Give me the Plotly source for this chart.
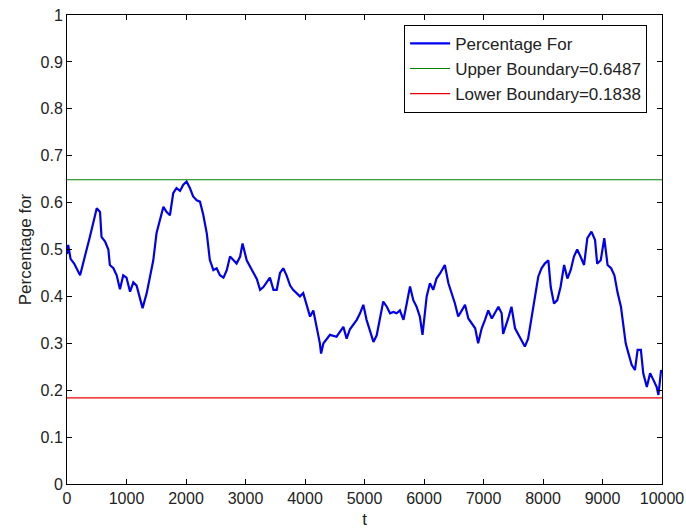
import plotly.graph_objects as go

t = [0, 20, 60, 120, 220, 275, 330, 385, 440, 500, 555, 580, 640, 695, 720, 780, 835, 890, 945, 1000,
     1060, 1115, 1170, 1225, 1270, 1340, 1395, 1450, 1505, 1560, 1620, 1675, 1730, 1785, 1840, 1900,
     1955, 2010, 2065, 2120, 2180, 2235, 2290, 2350, 2400, 2460, 2515, 2570, 2630, 2685, 2740, 2800,
     2850, 2910, 2950, 3020, 3075, 3130, 3190, 3245, 3300, 3355, 3410, 3470, 3525, 3580, 3635, 3690,
     3750, 3800, 3860, 3915, 3970, 4030, 4085, 4140, 4195, 4250, 4270, 4310, 4420, 4530, 4645, 4700,
     4755, 4870, 4925, 4980, 5035, 5090, 5150, 5205, 5260, 5315, 5375, 5430, 5485, 5540, 5595, 5655,
     5710, 5765, 5820, 5875, 5930, 5975, 6045, 6100, 6155, 6210, 6270, 6350, 6410, 6465, 6520, 6575,
     6635, 6690, 6745, 6800, 6860, 6910, 6970, 7025, 7080, 7140, 7195, 7250, 7305, 7330, 7415, 7470,
     7530, 7585, 7640, 7695, 7750, 7810, 7865, 7920, 7975, 8030, 8090, 8130, 8185, 8240, 8295, 8355,
     8410, 8465, 8520, 8575, 8630, 8690, 8745, 8815, 8875, 8910, 8970, 9030, 9085, 9145, 9200, 9255,
     9310, 9350, 9390, 9435, 9490, 9545, 9590, 9645, 9685, 9745, 9800, 9855, 9910, 9940, 9985, 10000]
percentage_for = [0.49, 0.51, 0.48, 0.47, 0.445, 0.475, 0.50, 0.527, 0.559, 0.588, 0.58, 0.527, 0.517,
     0.50, 0.467, 0.46, 0.445, 0.415, 0.445, 0.44, 0.41, 0.43, 0.423, 0.397, 0.375, 0.407, 0.442, 0.477,
     0.535, 0.563, 0.591, 0.58, 0.573, 0.62, 0.631, 0.625, 0.638, 0.645, 0.631, 0.613, 0.605, 0.602,
     0.574, 0.534, 0.478, 0.456, 0.46, 0.445, 0.44, 0.456, 0.485, 0.477, 0.47, 0.485, 0.513, 0.477,
     0.463, 0.45, 0.437, 0.414, 0.42, 0.43, 0.44, 0.414, 0.414, 0.45, 0.46, 0.445, 0.423, 0.414, 0.407,
     0.40, 0.407, 0.38, 0.357, 0.37, 0.335, 0.30, 0.278, 0.30, 0.318, 0.314, 0.335, 0.31, 0.33, 0.35,
     0.364, 0.382, 0.35, 0.328, 0.303, 0.317, 0.35, 0.389, 0.378, 0.364, 0.367, 0.364, 0.37, 0.35,
     0.385, 0.421, 0.392, 0.378, 0.357, 0.318, 0.40, 0.428, 0.414, 0.438, 0.449, 0.467, 0.428, 0.407,
     0.385, 0.357, 0.37, 0.382, 0.353, 0.343, 0.332, 0.30, 0.332, 0.35, 0.37, 0.353, 0.364, 0.378,
     0.364, 0.32, 0.353, 0.378, 0.332, 0.318, 0.307, 0.293, 0.31, 0.357, 0.40, 0.442, 0.46, 0.47,
     0.477, 0.42, 0.385, 0.392, 0.42, 0.467, 0.438, 0.456, 0.485, 0.50, 0.485, 0.467, 0.524, 0.538,
     0.52, 0.47, 0.477, 0.524, 0.467, 0.46, 0.445, 0.407, 0.378, 0.343, 0.30, 0.279, 0.254, 0.243,
     0.286, 0.286, 0.236, 0.207, 0.236, 0.222, 0.207, 0.19, 0.243, 0.235]

t_range = [0, 10000]
upper_boundary = 0.6487
lower_boundary = 0.1838

x_ticks = [0, 1000, 2000, 3000, 4000, 5000, 6000, 7000, 8000, 9000, 10000]
x_tick_labels = ["0", "1000", "2000", "3000", "4000", "5000", "6000", "7000", "8000", "9000", "10000"]
y_ticks = [0, 0.1, 0.2, 0.3, 0.4, 0.5, 0.6, 0.7, 0.8, 0.9, 1]
y_tick_labels = ["0", "0.1", "0.2", "0.3", "0.4", "0.5", "0.6", "0.7", "0.8", "0.9", "1"]

FONT = "Liberation Sans, Arial, sans-serif"
TXT = "#222222"

fig = go.Figure()
fig.add_trace(go.Scatter(x=t, y=percentage_for, mode="lines", name="Percentage For",
                         line=dict(color="#0000ee", width=2.2)))
fig.add_trace(go.Scatter(x=t_range, y=[upper_boundary] * 2, mode="lines",
                         name=f"Upper Boundary={upper_boundary}",
                         line=dict(color="#008000", width=1.2)))
fig.add_trace(go.Scatter(x=t_range, y=[lower_boundary] * 2, mode="lines",
                         name=f"Lower Boundary={lower_boundary}",
                         line=dict(color="#ee0000", width=1.2)))

axis_common = dict(showline=True, linecolor="black", linewidth=1, mirror="ticks",
                   ticks="inside", ticklen=5, tickcolor="black", showgrid=False,
                   zeroline=False, automargin=False,
                   tickfont=dict(family=FONT, size=16, color=TXT))

fig.update_xaxes(range=t_range, tickvals=x_ticks, ticktext=x_tick_labels, **axis_common,
                 title=dict(text="t", font=dict(family=FONT, size=17, color=TXT), standoff=6))
fig.update_yaxes(range=[0, 1], tickvals=y_ticks, ticktext=y_tick_labels, **axis_common,
                 title=dict(text="Percentage for", font=dict(family=FONT, size=17, color=TXT),
                            standoff=4))

fig.update_layout(
    width=686, height=529,
    margin=dict(l=67, r=24, t=15, b=45, autoexpand=False),
    paper_bgcolor="white", plot_bgcolor="white",
    showlegend=True,
    legend=dict(x=0.975, y=0.979, xanchor="right", yanchor="top",
                bgcolor="white", bordercolor="black", borderwidth=1,
                font=dict(family=FONT, size=17, color=TXT),
                itemwidth=40, tracegroupgap=0),
)

fig.write_html("out.html")
